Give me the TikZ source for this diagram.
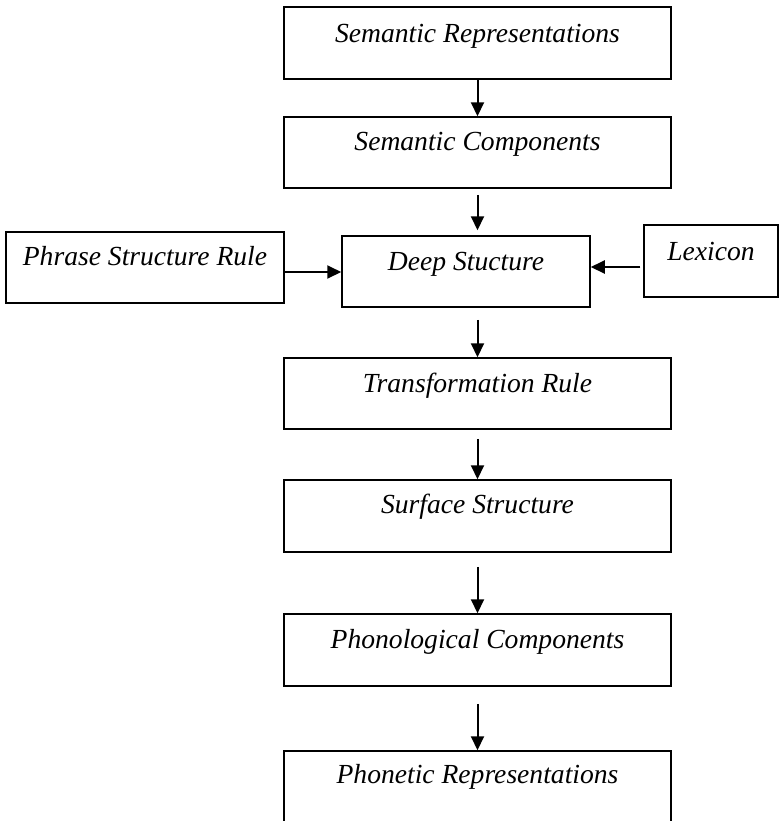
\documentclass[tikz,border=0pt]{standalone}
\usepackage{fontspec}
\setmainfont{Liberation Serif}
\usetikzlibrary{arrows.meta}

\begin{document}
\begin{tikzpicture}[x=0.5pt, y=-0.5pt,
    box/.style={draw, line width=0.75pt, inner sep=0pt, minimum width=193.5pt,
                font=\fontsize{13.8}{16}\selectfont\itshape},
    arr/.style={line width=1pt, -{Triangle[length=7pt, width=6.5pt]}}]
                \useasboundingbox (0,0) rectangle (779,821);

                % Main column:
                \node[box, text height=17.5pt, text depth=18.5pt] (semrep)  at (477.5,43)    {Semantic Representations};
                \node[box, text height=16.5pt, text depth=19pt]   (semcomp) at (477.5,152.5) {Semantic Components};
                \node[box, minimum width=124pt, text height=17pt, text depth=18.5pt] (deep) at (466,271.5) {Deep Stucture};
                \node[box, text height=17pt, text depth=18.5pt]   (trans)   at (477.5,393.5) {Transformation Rule};
                \node[box, text height=16.5pt, text depth=19.5pt] (surf)    at (477.5,516)   {Surface Structure};
                \node[box, text height=17pt, text depth=19pt]     (phon)    at (477.5,650)   {Phonological Components};
                \node[box, text height=16pt, text depth=20pt]     (phonet)  at (477.5,787)   {Phonetic Representations};

                % Side inputs:
                \node[box, minimum width=139pt, text height=16.5pt, text depth=19pt] (psr) at (145,267.5) {Phrase Structure Rule};
                \node[box, minimum width=67pt, text height=17.5pt, text depth=18.5pt] (lex) at (711,261) {Lexicon};

                % Arrows:
                \draw[arr] (semrep) -- (semcomp);
                \draw[arr, shorten <=3pt, shorten >=2.5pt] (semcomp.south) -- (semcomp.south |- deep.north);
                \draw[arr] (psr.east |- 0,272) -- (deep.west |- 0,272);
                \draw[arr, shorten <=1.5pt] (lex.west |- 0,267) -- (deep.east |- 0,267);
                \draw[arr, shorten <=6pt] (deep.south -| trans) -- (trans);
                \draw[arr, shorten <=4.5pt] (trans) -- (surf);
                \draw[arr, shorten <=7pt] (surf) -- (phon);
                \draw[arr, shorten <=8.5pt] (phon) -- (phonet);
            \end{tikzpicture}
\end{document}
